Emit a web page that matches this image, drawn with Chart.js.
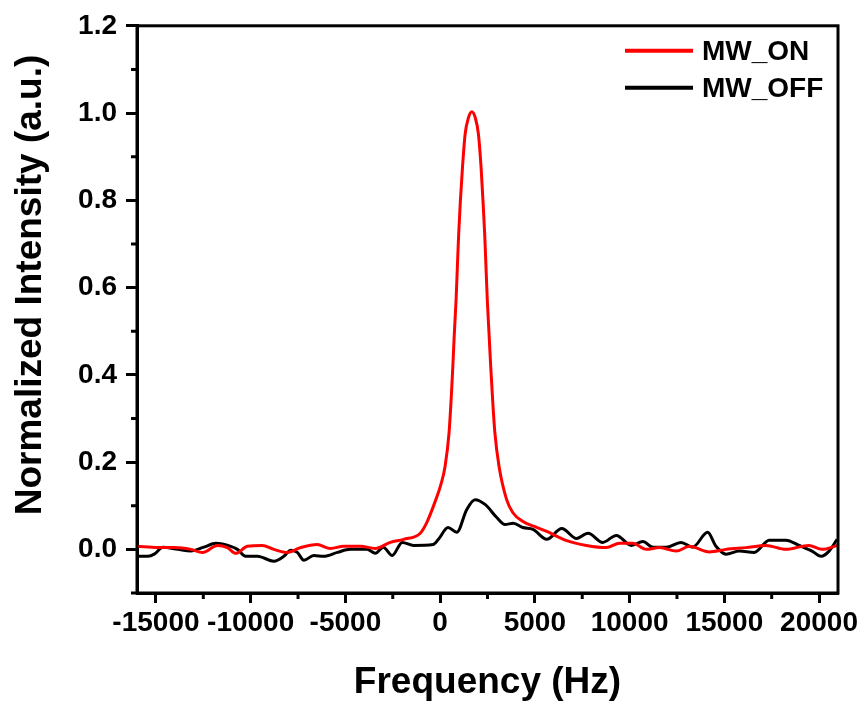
<!DOCTYPE html>
<html>
<head>
<meta charset="utf-8">
<script src="https://cdn.jsdelivr.net/npm/chart.js@4"></script>
<style>
  html, body { margin: 0; padding: 0; background: #fff; }
  #wrap { width: 867px; height: 705px; }
</style>
</head>
<body>
<div id="wrap"><canvas id="nmrChart"></canvas></div>
<script>
// MW_ON spectrum (frequency in Hz, normalized intensity)
const onFreq = [-16000, -14900, -14000, -13160, -12540, -11750, -11230, -10790, -10180, -9390,
    -8770, -8070, -7370, -6490, -5790, -5090, -4210, -3420, -2630, -1930,
    -1050, -700, -260, 50, 260, 470, 580, 670, 750, 840,
    910, 980, 1070, 1180, 1320, 1500, 1670, 1850, 2020, 2160,
    2260, 2350, 2420, 2490, 2580, 2670, 2770, 2890, 3110, 3510,
    3840, 4370, 5000, 5630, 6680, 7720, 8770, 9470, 10160, 10880,
    11580, 12460, 13160, 14210, 15090, 16140, 17190, 18250, 19460, 20160,
    20950];
const onInt = [0.007, 0.004, 0.004, 0.0, -0.007, 0.009, 0.004, -0.009, 0.007, 0.009,
    0.0, -0.007, 0.004, 0.011, 0.002, 0.007, 0.007, 0.002, 0.016, 0.023,
    0.037, 0.062, 0.11, 0.15, 0.19, 0.267, 0.343, 0.419, 0.495, 0.571,
    0.648, 0.724, 0.8, 0.876, 0.952, 0.99, 1.003, 0.99, 0.952, 0.876,
    0.8, 0.724, 0.648, 0.571, 0.495, 0.419, 0.343, 0.267, 0.19, 0.114,
    0.084, 0.064, 0.052, 0.041, 0.02, 0.009, 0.004, 0.014, 0.014, 0.0,
    0.004, -0.004, 0.007, -0.006, 0.0, 0.004, 0.009, 0.0, 0.009, 0.0,
    0.009];

// MW_OFF spectrum
const offFreq = [-15950, -15420, -15090, -14630, -13840, -13160, -12470, -11840, -11050, -10700,
    -10260, -9650, -8770, -8250, -7890, -7540, -7190, -6670, -6140, -5420,
    -4740, -3860, -3420, -3000, -2530, -2000, -1400, -370, -90, 420,
    880, 1400, 1840, 2370, 2990, 3420, 3860, 4370, 4900, 5630,
    6420, 7200, 7810, 8580, 9300, 10090, 10700, 11230, 11930, 12720,
    13330, 14120, 14560, 15090, 15790, 16580, 17370, 18250, 18950, 19630,
    20110, 20530, 20950];
const offInt = [-0.016, -0.016, -0.011, 0.005, 0.0, -0.004, 0.005, 0.014, 0.007, 0.0,
    -0.016, -0.016, -0.027, -0.016, -0.002, -0.007, -0.025, -0.014, -0.016, -0.007,
    0.0, 0.0, -0.009, 0.005, -0.014, 0.016, 0.009, 0.011, 0.023, 0.05,
    0.039, 0.091, 0.114, 0.103, 0.073, 0.057, 0.06, 0.05, 0.046, 0.023,
    0.048, 0.025, 0.037, 0.016, 0.032, 0.009, 0.018, 0.005, 0.005, 0.016,
    0.005, 0.039, 0.007, -0.011, -0.004, -0.007, 0.021, 0.021, 0.009, -0.004,
    -0.016, -0.004, 0.023];

const seriesLabels = ['MW_ON', 'MW_OFF'];
const xTicks = [-15000, -10000, -5000, 0, 5000, 10000, 15000, 20000];
const xMinorTicks = [-12500, -7500, -2500, 2500, 7500, 12500, 17500];
const yTicks = [0, 0.2, 0.4, 0.6, 0.8, 1.0, 1.2];
const yMinorTicks = [-0.1, 0.1, 0.3, 0.5, 0.7, 0.9, 1.1];

const FONT = "'Liberation Sans', Arial, sans-serif";

function toPoints(xs, ys) {
    return xs.map((x, i) => ({ x: x, y: ys[i] }));
}

// frame, minor ticks, y title and legend drawn on top of the chart
const extras = {
    id: 'extras',
    afterDraw(chart) {
        const ctx = chart.ctx;
        const area = chart.chartArea;
        const xs = chart.scales.x;
        const ys = chart.scales.y;
        ctx.save();
        ctx.strokeStyle = '#000';
        ctx.lineWidth = 3;
        ctx.strokeRect(area.left, area.top, area.right - area.left, area.bottom - area.top);

        // minor ticks
        ctx.beginPath();
        xMinorTicks.forEach(v => {
            const px = xs.getPixelForValue(v);
            ctx.moveTo(px, area.bottom);
            ctx.lineTo(px, area.bottom + 6);
        });
        yMinorTicks.forEach(v => {
            const py = ys.getPixelForValue(v);
            ctx.moveTo(area.left, py);
            ctx.lineTo(area.left - 6, py);
        });
        ctx.stroke();

        // y axis title
        ctx.save();
        ctx.translate(31, 285);
        ctx.rotate(-Math.PI / 2);
        ctx.font = 'bold 37px ' + FONT;
        ctx.fillStyle = '#000';
        ctx.textAlign = 'center';
        ctx.textBaseline = 'middle';
        ctx.fillText('Normalized Intensity (a.u.)', 0, 0);
        ctx.restore();

        // legend
        ctx.font = 'bold 28px ' + FONT;
        ctx.textAlign = 'left';
        ctx.textBaseline = 'middle';
        chart.data.datasets.forEach((ds, i) => {
            const y = area.top + 25 + i * 37;
            ctx.strokeStyle = ds.borderColor;
            ctx.lineWidth = 4;
            ctx.beginPath();
            ctx.moveTo(area.right - 213, y);
            ctx.lineTo(area.right - 145, y);
            ctx.stroke();
            ctx.fillStyle = '#000';
            ctx.fillText(ds.label, area.right - 136, y + 1);
        });
        ctx.restore();
    }
};

const ctx = document.getElementById('nmrChart').getContext('2d');
new Chart(ctx, {
    type: 'line',
    data: {
        datasets: [
            {
                label: seriesLabels[0],
                data: toPoints(onFreq, onInt),
                borderColor: '#ff0000',
                borderWidth: 3,
                pointRadius: 0,
                fill: false,
                cubicInterpolationMode: 'monotone'
            },
            {
                label: seriesLabels[1],
                data: toPoints(offFreq, offInt),
                borderColor: '#000000',
                borderWidth: 3,
                pointRadius: 0,
                fill: false,
                cubicInterpolationMode: 'monotone'
            }
        ]
    },
    options: {
        responsive: true,
        maintainAspectRatio: false,
        animation: false,
        layout: { padding: { top: 25, right: 29, left: 0, bottom: 0 } },
        plugins: {
            legend: { display: false },
            tooltip: { enabled: false }
        },
        scales: {
            x: {
                type: 'linear',
                min: -16000,
                max: 21000,
                afterBuildTicks: scale => { scale.ticks = xTicks.map(v => ({ value: v })); },
                afterFit: scale => { scale.height = 112; },
                ticks: {
                    color: '#000',
                    font: { family: FONT, size: 28, weight: 'bold' },
                    padding: 3,
                    maxRotation: 0,
                    autoSkip: false,
                    callback: v => String(v)
                },
                grid: {
                    drawOnChartArea: false,
                    drawTicks: true,
                    tickLength: 10,
                    tickWidth: 3,
                    tickColor: '#000'
                },
                border: { display: true, color: '#000', width: 3 },
                title: {
                    display: true,
                    text: 'Frequency (Hz)',
                    color: '#000',
                    font: { family: FONT, size: 37, weight: 'bold' },
                    padding: { top: 5, bottom: 0 }
                }
            },
            y: {
                min: -0.1,
                max: 1.2,
                afterBuildTicks: scale => { scale.ticks = yTicks.map(v => ({ value: v })); },
                afterFit: scale => { scale.width = 137; },
                ticks: {
                    color: '#000',
                    font: { family: FONT, size: 28, weight: 'bold' },
                    padding: 9,
                    callback: v => Number(v).toFixed(1)
                },
                grid: {
                    drawOnChartArea: false,
                    drawTicks: true,
                    tickLength: 11,
                    tickWidth: 3,
                    tickColor: '#000'
                },
                border: { display: true, color: '#000', width: 3 }
            }
        }
    },
    plugins: [extras]
});
</script>
</body>
</html>
